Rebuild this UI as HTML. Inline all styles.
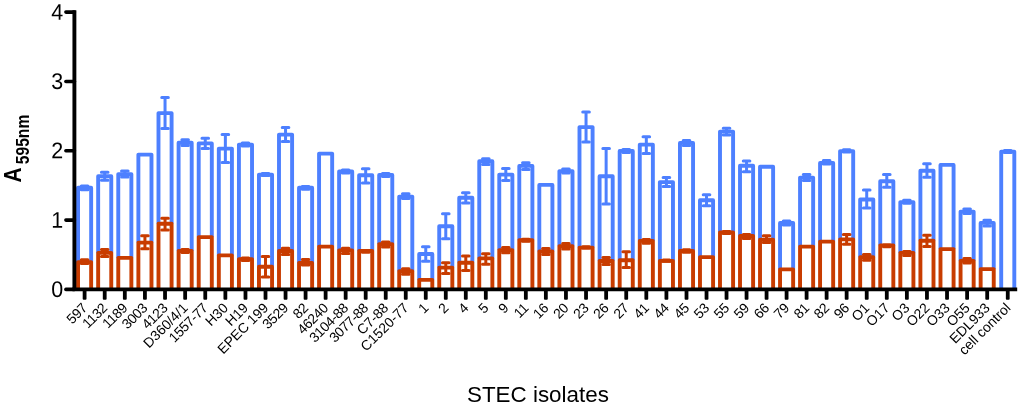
<!DOCTYPE html>
<html><head><meta charset="utf-8"><title>STEC isolates</title>
<style>html,body{margin:0;padding:0;background:#fff}svg{display:block}text{font-family:"Liberation Sans",sans-serif;fill:#000}</style></head>
<body>
<svg width="1024" height="413" viewBox="0 0 1024 413">
<rect width="1024" height="413" fill="#fff"/>
<g fill="#fff" stroke="#4d80ff" stroke-width="3.9" stroke-linejoin="round">
<path d="M78.05 262.1V187.80h13.1V262.1"/>
<path d="M98.16 252.9V176.30h13.1V252.9"/>
<path d="M118.27 257.9V174.10h13.1V257.9"/>
<path d="M138.38 242.6V154.60h13.1V242.6"/>
<path d="M158.49 223.8V113.10h13.1V223.8"/>
<path d="M178.60 251V142.70h13.1V251"/>
<path d="M198.71 237.1V143.40h13.1V237.1"/>
<path d="M218.82 255.4V148.60h13.1V255.4"/>
<path d="M238.93 259.1V144.60h13.1V259.1"/>
<path d="M258.96 266.8V174.60h13.1V266.8"/>
<path d="M279.00 251V134.60h13.1V251"/>
<path d="M299.03 262.9V187.80h13.1V262.9"/>
<path d="M319.07 246.6V153.60h13.1V246.6"/>
<path d="M339.11 250.4V171.50h13.1V250.4"/>
<path d="M359.14 251V175.20h13.1V251"/>
<path d="M379.18 244.1V174.90h13.1V244.1"/>
<path d="M399.20 271.2V196.60h13.1V271.2"/>
<path d="M419.21 279.9V254.00h13.1V279.9"/>
<path d="M439.23 267.6V226.20h13.1V267.6"/>
<path d="M459.24 262.7V197.70h13.1V262.7"/>
<path d="M479.26 258.4V161.20h13.1V258.4"/>
<path d="M499.27 250.1V174.60h13.1V250.1"/>
<path d="M519.29 240.2V165.90h13.1V240.2"/>
<path d="M539.31 251.5V184.90h13.1V251.5"/>
<path d="M559.40 246.3V171.10h13.1V246.3"/>
<path d="M579.49 247.6V127.10h13.1V247.6"/>
<path d="M599.59 261V176.20h13.1V261"/>
<path d="M619.68 260.2V150.90h13.1V260.2"/>
<path d="M639.77 240.9V144.60h13.1V240.9"/>
<path d="M659.87 260.9V182.10h13.1V260.9"/>
<path d="M679.96 251V142.90h13.1V251"/>
<path d="M699.98 257.1V200.20h13.1V257.1"/>
<path d="M719.99 232.4V131.60h13.1V232.4"/>
<path d="M740.01 236V165.80h13.1V236"/>
<path d="M760.02 239.7V166.80h13.1V239.7"/>
<path d="M780.04 269.4V222.90h13.1V269.4"/>
<path d="M800.05 246.6V177.60h13.1V246.6"/>
<path d="M820.07 241.6V162.90h13.1V241.6"/>
<path d="M840.09 239.4V151.10h13.1V239.4"/>
<path d="M860.17 257.3V199.50h13.1V257.3"/>
<path d="M880.24 245.4V181.30h13.1V245.4"/>
<path d="M900.32 252.9V202.10h13.1V252.9"/>
<path d="M920.40 240.7V170.70h13.1V240.7"/>
<path d="M940.48 249.1V164.90h13.1V249.1"/>
<path d="M960.56 260.9V211.60h13.1V260.9"/>
<path d="M980.64 269.1V222.90h13.1V269.1"/>
<path d="M1001.21 289.4V151.60h13.1V289.4"/>
</g>
<g fill="none" stroke="#4d80ff" stroke-width="3.0" stroke-linecap="round">
<path d="M84.60 185.90V189.70M81.30 185.90h6.6M81.30 189.70h6.6"/>
<path d="M104.71 172.30V180.30M101.41 172.30h6.6M101.41 180.30h6.6"/>
<path d="M124.82 171.10V177.10M121.52 171.10h6.6M121.52 177.10h6.6"/>
<path d="M165.04 97.60V128.60M161.74 97.60h6.6M161.74 128.60h6.6"/>
<path d="M185.15 139.80V145.60M181.85 139.80h6.6M181.85 145.60h6.6"/>
<path d="M205.26 138.20V148.60M201.96 138.20h6.6M201.96 148.60h6.6"/>
<path d="M225.37 134.60V162.60M222.07 134.60h6.6M222.07 162.60h6.6"/>
<path d="M245.48 143.10V146.10M242.18 143.10h6.6M242.18 146.10h6.6"/>
<path d="M265.51 173.60V175.60M262.21 173.60h6.6M262.21 175.60h6.6"/>
<path d="M285.55 127.60V141.60M282.25 127.60h6.6M282.25 141.60h6.6"/>
<path d="M305.58 186.40V189.20M302.28 186.40h6.6M302.28 189.20h6.6"/>
<path d="M345.66 170.00V173.00M342.36 170.00h6.6M342.36 173.00h6.6"/>
<path d="M365.69 168.80V183.00M362.39 168.80h6.6M362.39 183.00h6.6"/>
<path d="M385.73 173.40V176.40M382.43 173.40h6.6M382.43 176.40h6.6"/>
<path d="M405.75 193.70V198.40M402.45 193.70h6.6M402.45 198.40h6.6"/>
<path d="M425.76 246.80V261.20M422.46 246.80h6.6M422.46 261.20h6.6"/>
<path d="M445.78 213.70V238.70M442.48 213.70h6.6M442.48 238.70h6.6"/>
<path d="M465.79 192.70V203.00M462.49 192.70h6.6M462.49 203.00h6.6"/>
<path d="M485.81 158.70V164.50M482.51 158.70h6.6M482.51 164.50h6.6"/>
<path d="M505.82 168.60V180.60M502.52 168.60h6.6M502.52 180.60h6.6"/>
<path d="M525.84 162.80V169.60M522.54 162.80h6.6M522.54 169.60h6.6"/>
<path d="M565.95 168.90V173.10M562.65 168.90h6.6M562.65 173.10h6.6"/>
<path d="M586.04 112.10V142.10M582.74 112.10h6.6M582.74 142.10h6.6"/>
<path d="M606.14 148.40V204.00M602.84 148.40h6.6M602.84 204.00h6.6"/>
<path d="M626.23 149.40V152.40M622.93 149.40h6.6M622.93 152.40h6.6"/>
<path d="M646.32 136.80V153.50M643.02 136.80h6.6M643.02 153.50h6.6"/>
<path d="M666.42 177.60V186.60M663.12 177.60h6.6M663.12 186.60h6.6"/>
<path d="M686.51 140.40V145.40M683.21 140.40h6.6M683.21 145.40h6.6"/>
<path d="M706.53 194.70V205.70M703.23 194.70h6.6M703.23 205.70h6.6"/>
<path d="M726.54 128.30V134.90M723.24 128.30h6.6M723.24 134.90h6.6"/>
<path d="M746.56 161.10V171.70M743.26 161.10h6.6M743.26 171.70h6.6"/>
<path d="M786.59 220.90V224.90M783.29 220.90h6.6M783.29 224.90h6.6"/>
<path d="M806.60 174.40V180.60M803.30 174.40h6.6M803.30 180.60h6.6"/>
<path d="M826.62 160.40V164.10M823.32 160.40h6.6M823.32 164.10h6.6"/>
<path d="M846.64 149.70V152.10M843.34 149.70h6.6M843.34 152.10h6.6"/>
<path d="M866.72 190.10V208.10M863.42 190.10h6.6M863.42 208.10h6.6"/>
<path d="M886.79 174.50V187.30M883.49 174.50h6.6M883.49 187.30h6.6"/>
<path d="M906.87 200.30V203.30M903.57 200.30h6.6M903.57 203.30h6.6"/>
<path d="M926.95 163.70V177.20M923.65 163.70h6.6M923.65 177.20h6.6"/>
<path d="M967.11 208.90V213.60M963.81 208.90h6.6M963.81 213.60h6.6"/>
<path d="M987.19 220.20V225.90M983.89 220.20h6.6M983.89 225.90h6.6"/>
<path d="M1007.76 150.60V152.60M1004.46 150.60h6.6M1004.46 152.60h6.6"/>
</g>
<g fill="#fff" stroke="#c83c00" stroke-width="3.9" stroke-linejoin="round">
<path d="M78.05 289.4V262.10h13.1V289.4"/>
<path d="M98.16 289.4V252.90h13.1V289.4"/>
<path d="M118.27 289.4V257.90h13.1V289.4"/>
<path d="M138.38 289.4V242.60h13.1V289.4"/>
<path d="M158.49 289.4V223.80h13.1V289.4"/>
<path d="M178.60 289.4V251.00h13.1V289.4"/>
<path d="M198.71 289.4V237.10h13.1V289.4"/>
<path d="M218.82 289.4V255.40h13.1V289.4"/>
<path d="M238.93 289.4V259.10h13.1V289.4"/>
<path d="M258.96 289.4V266.80h13.1V289.4"/>
<path d="M279.00 289.4V251.00h13.1V289.4"/>
<path d="M299.03 289.4V262.90h13.1V289.4"/>
<path d="M319.07 289.4V246.60h13.1V289.4"/>
<path d="M339.11 289.4V250.40h13.1V289.4"/>
<path d="M359.14 289.4V251.00h13.1V289.4"/>
<path d="M379.18 289.4V244.10h13.1V289.4"/>
<path d="M399.20 289.4V271.20h13.1V289.4"/>
<path d="M419.21 289.4V279.90h13.1V289.4"/>
<path d="M439.23 289.4V267.60h13.1V289.4"/>
<path d="M459.24 289.4V262.70h13.1V289.4"/>
<path d="M479.26 289.4V258.40h13.1V289.4"/>
<path d="M499.27 289.4V250.10h13.1V289.4"/>
<path d="M519.29 289.4V240.20h13.1V289.4"/>
<path d="M539.31 289.4V251.50h13.1V289.4"/>
<path d="M559.40 289.4V246.30h13.1V289.4"/>
<path d="M579.49 289.4V247.60h13.1V289.4"/>
<path d="M599.59 289.4V261.00h13.1V289.4"/>
<path d="M619.68 289.4V260.20h13.1V289.4"/>
<path d="M639.77 289.4V240.90h13.1V289.4"/>
<path d="M659.87 289.4V260.90h13.1V289.4"/>
<path d="M679.96 289.4V251.00h13.1V289.4"/>
<path d="M699.98 289.4V257.10h13.1V289.4"/>
<path d="M719.99 289.4V232.40h13.1V289.4"/>
<path d="M740.01 289.4V236.00h13.1V289.4"/>
<path d="M760.02 289.4V239.70h13.1V289.4"/>
<path d="M780.04 289.4V269.40h13.1V289.4"/>
<path d="M800.05 289.4V246.60h13.1V289.4"/>
<path d="M820.07 289.4V241.60h13.1V289.4"/>
<path d="M840.09 289.4V239.40h13.1V289.4"/>
<path d="M860.17 289.4V257.30h13.1V289.4"/>
<path d="M880.24 289.4V245.40h13.1V289.4"/>
<path d="M900.32 289.4V252.90h13.1V289.4"/>
<path d="M920.40 289.4V240.70h13.1V289.4"/>
<path d="M940.48 289.4V249.10h13.1V289.4"/>
<path d="M960.56 289.4V260.90h13.1V289.4"/>
<path d="M980.64 289.4V269.10h13.1V289.4"/>
</g>
<g fill="none" stroke="#c83c00" stroke-width="3.0" stroke-linecap="round">
<path d="M84.60 259.80V263.60M81.30 259.80h6.6M81.30 263.60h6.6"/>
<path d="M104.71 249.60V256.60M101.41 249.60h6.6M101.41 256.60h6.6"/>
<path d="M144.93 235.70V248.70M141.63 235.70h6.6M141.63 248.70h6.6"/>
<path d="M165.04 218.20V229.90M161.74 218.20h6.6M161.74 229.90h6.6"/>
<path d="M185.15 249.50V252.50M181.85 249.50h6.6M181.85 252.50h6.6"/>
<path d="M245.48 258.10V260.60M242.18 258.10h6.6M242.18 260.60h6.6"/>
<path d="M265.51 256.50V277.00M262.21 256.50h6.6M262.21 277.00h6.6"/>
<path d="M285.55 248.20V254.60M282.25 248.20h6.6M282.25 254.60h6.6"/>
<path d="M305.58 259.40V264.90M302.28 259.40h6.6M302.28 264.90h6.6"/>
<path d="M345.66 248.20V253.40M342.36 248.20h6.6M342.36 253.40h6.6"/>
<path d="M365.69 250.50V252.30M362.39 250.50h6.6M362.39 252.30h6.6"/>
<path d="M385.73 242.10V246.90M382.43 242.10h6.6M382.43 246.90h6.6"/>
<path d="M405.75 268.70V274.20M402.45 268.70h6.6M402.45 274.20h6.6"/>
<path d="M445.78 262.70V273.50M442.48 262.70h6.6M442.48 273.50h6.6"/>
<path d="M465.79 255.90V270.40M462.49 255.90h6.6M462.49 270.40h6.6"/>
<path d="M485.81 253.70V264.20M482.51 253.70h6.6M482.51 264.20h6.6"/>
<path d="M505.82 247.40V252.80M502.52 247.40h6.6M502.52 252.80h6.6"/>
<path d="M525.84 239.20V241.20M522.54 239.20h6.6M522.54 241.20h6.6"/>
<path d="M545.86 248.50V254.50M542.56 248.50h6.6M542.56 254.50h6.6"/>
<path d="M565.95 243.50V249.10M562.65 243.50h6.6M562.65 249.10h6.6"/>
<path d="M586.04 246.80V248.10M582.74 246.80h6.6M582.74 248.10h6.6"/>
<path d="M606.14 257.40V264.60M602.84 257.40h6.6M602.84 264.60h6.6"/>
<path d="M626.23 251.80V267.40M622.93 251.80h6.6M622.93 267.40h6.6"/>
<path d="M646.32 239.50V243.30M643.02 239.50h6.6M643.02 243.30h6.6"/>
<path d="M666.42 260.00V261.20M663.12 260.00h6.6M663.12 261.20h6.6"/>
<path d="M686.51 249.80V252.20M683.21 249.80h6.6M683.21 252.20h6.6"/>
<path d="M726.54 231.40V233.40M723.24 231.40h6.6M723.24 233.40h6.6"/>
<path d="M746.56 234.50V238.50M743.26 234.50h6.6M743.26 238.50h6.6"/>
<path d="M766.57 235.80V242.50M763.27 235.80h6.6M763.27 242.50h6.6"/>
<path d="M846.64 234.60V244.20M843.34 234.60h6.6M843.34 244.20h6.6"/>
<path d="M866.72 254.40V260.20M863.42 254.40h6.6M863.42 260.20h6.6"/>
<path d="M886.79 245.00V246.70M883.49 245.00h6.6M883.49 246.70h6.6"/>
<path d="M906.87 251.40V255.50M903.57 251.40h6.6M903.57 255.50h6.6"/>
<path d="M926.95 235.20V246.50M923.65 235.20h6.6M923.65 246.50h6.6"/>
<path d="M967.11 258.40V262.90M963.81 258.40h6.6M963.81 262.90h6.6"/>
</g>
<g stroke="#000" fill="none">
<path stroke-width="3.9" d="M74.4 10.32V289.40"/>
<path stroke-width="3.6" d="M72.45 289.4H1017.2"/>
</g>
<g stroke="#000" stroke-width="3.6" stroke-linecap="round" fill="none">
<path d="M74.4 289.40H65.9"/>
<path d="M74.4 220.08H65.9"/>
<path d="M74.4 150.76H65.9"/>
<path d="M74.4 81.44H65.9"/>
<path d="M74.4 12.12H65.9"/>
</g>
<g fill="#000">
<rect x="82.70" y="289.40" width="3.8" height="10.3" rx="0.9"/>
<rect x="102.81" y="289.40" width="3.8" height="10.3" rx="0.9"/>
<rect x="122.92" y="289.40" width="3.8" height="10.3" rx="0.9"/>
<rect x="143.03" y="289.40" width="3.8" height="10.3" rx="0.9"/>
<rect x="163.14" y="289.40" width="3.8" height="10.3" rx="0.9"/>
<rect x="183.25" y="289.40" width="3.8" height="10.3" rx="0.9"/>
<rect x="203.36" y="289.40" width="3.8" height="10.3" rx="0.9"/>
<rect x="223.47" y="289.40" width="3.8" height="10.3" rx="0.9"/>
<rect x="243.58" y="289.40" width="3.8" height="10.3" rx="0.9"/>
<rect x="263.61" y="289.40" width="3.8" height="10.3" rx="0.9"/>
<rect x="283.65" y="289.40" width="3.8" height="10.3" rx="0.9"/>
<rect x="303.68" y="289.40" width="3.8" height="10.3" rx="0.9"/>
<rect x="323.72" y="289.40" width="3.8" height="10.3" rx="0.9"/>
<rect x="343.76" y="289.40" width="3.8" height="10.3" rx="0.9"/>
<rect x="363.79" y="289.40" width="3.8" height="10.3" rx="0.9"/>
<rect x="383.83" y="289.40" width="3.8" height="10.3" rx="0.9"/>
<rect x="403.85" y="289.40" width="3.8" height="10.3" rx="0.9"/>
<rect x="423.86" y="289.40" width="3.8" height="10.3" rx="0.9"/>
<rect x="443.88" y="289.40" width="3.8" height="10.3" rx="0.9"/>
<rect x="463.89" y="289.40" width="3.8" height="10.3" rx="0.9"/>
<rect x="483.91" y="289.40" width="3.8" height="10.3" rx="0.9"/>
<rect x="503.92" y="289.40" width="3.8" height="10.3" rx="0.9"/>
<rect x="523.94" y="289.40" width="3.8" height="10.3" rx="0.9"/>
<rect x="543.96" y="289.40" width="3.8" height="10.3" rx="0.9"/>
<rect x="564.05" y="289.40" width="3.8" height="10.3" rx="0.9"/>
<rect x="584.14" y="289.40" width="3.8" height="10.3" rx="0.9"/>
<rect x="604.24" y="289.40" width="3.8" height="10.3" rx="0.9"/>
<rect x="624.33" y="289.40" width="3.8" height="10.3" rx="0.9"/>
<rect x="644.42" y="289.40" width="3.8" height="10.3" rx="0.9"/>
<rect x="664.52" y="289.40" width="3.8" height="10.3" rx="0.9"/>
<rect x="684.61" y="289.40" width="3.8" height="10.3" rx="0.9"/>
<rect x="704.63" y="289.40" width="3.8" height="10.3" rx="0.9"/>
<rect x="724.64" y="289.40" width="3.8" height="10.3" rx="0.9"/>
<rect x="744.66" y="289.40" width="3.8" height="10.3" rx="0.9"/>
<rect x="764.67" y="289.40" width="3.8" height="10.3" rx="0.9"/>
<rect x="784.69" y="289.40" width="3.8" height="10.3" rx="0.9"/>
<rect x="804.70" y="289.40" width="3.8" height="10.3" rx="0.9"/>
<rect x="824.72" y="289.40" width="3.8" height="10.3" rx="0.9"/>
<rect x="844.74" y="289.40" width="3.8" height="10.3" rx="0.9"/>
<rect x="864.82" y="289.40" width="3.8" height="10.3" rx="0.9"/>
<rect x="884.89" y="289.40" width="3.8" height="10.3" rx="0.9"/>
<rect x="904.97" y="289.40" width="3.8" height="10.3" rx="0.9"/>
<rect x="925.05" y="289.40" width="3.8" height="10.3" rx="0.9"/>
<rect x="945.13" y="289.40" width="3.8" height="10.3" rx="0.9"/>
<rect x="965.21" y="289.40" width="3.8" height="10.3" rx="0.9"/>
<rect x="985.29" y="289.40" width="3.8" height="10.3" rx="0.9"/>
<rect x="1005.86" y="289.40" width="3.8" height="10.3" rx="0.9"/>
</g>
<g font-size="22.6" text-anchor="end">
<text transform="translate(63.2,297.00) rotate(0.03) scale(0.95,1)">0</text>
<text transform="translate(63.2,227.68) rotate(0.03) scale(0.95,1)">1</text>
<text transform="translate(63.2,158.36) rotate(0.03) scale(0.95,1)">2</text>
<text transform="translate(63.2,89.04) rotate(0.03) scale(0.95,1)">3</text>
<text transform="translate(63.2,19.72) rotate(0.03) scale(0.95,1)">4</text>
</g>
<g transform="translate(21.1,182.5) rotate(-90)" font-weight="bold"><text transform="scale(0.906,1)" font-size="23.2">A</text><text transform="translate(18.3,8.2) scale(0.85,1)" font-size="18.4">595nm</text></g>
<text x="537.9" y="402" font-size="22.4" text-anchor="middle">STEC isolates</text>
<g font-size="13.9" text-anchor="end">
<text transform="translate(87.90,309.10) rotate(-45)" letter-spacing="-0.4">597</text>
<text transform="translate(108.01,309.10) rotate(-45)" letter-spacing="-0.4">1132</text>
<text transform="translate(128.12,309.10) rotate(-45)" letter-spacing="-0.4">1189</text>
<text transform="translate(148.23,309.10) rotate(-45)" letter-spacing="-0.4">3003</text>
<text transform="translate(168.34,309.10) rotate(-45)" letter-spacing="-0.4">4123</text>
<text transform="translate(188.75,308.80) rotate(-45)">D360/4/1</text>
<text transform="translate(208.56,309.10) rotate(-45)" letter-spacing="-0.4">1557-77</text>
<text transform="translate(228.97,308.80) rotate(-45)">H30</text>
<text transform="translate(249.08,308.80) rotate(-45)">H19</text>
<text transform="translate(269.11,308.80) rotate(-45)">EPEC 199</text>
<text transform="translate(288.85,309.10) rotate(-45)" letter-spacing="-0.4">3529</text>
<text transform="translate(308.88,309.10) rotate(-45)" letter-spacing="-0.4">82</text>
<text transform="translate(328.92,309.10) rotate(-45)" letter-spacing="-0.4">46240</text>
<text transform="translate(348.96,309.10) rotate(-45)" letter-spacing="-0.4">3104-88</text>
<text transform="translate(368.99,309.10) rotate(-45)" letter-spacing="-0.4">3077-88</text>
<text transform="translate(389.33,308.80) rotate(-45)">C7-88</text>
<text transform="translate(409.35,308.80) rotate(-45)">C1520-77</text>
<text transform="translate(429.36,308.80) rotate(-45)">1</text>
<text transform="translate(449.38,308.80) rotate(-45)">2</text>
<text transform="translate(469.39,308.80) rotate(-45)">4</text>
<text transform="translate(489.41,308.80) rotate(-45)">5</text>
<text transform="translate(509.42,308.80) rotate(-45)">9</text>
<text transform="translate(529.14,309.10) rotate(-45)" letter-spacing="-0.4">11</text>
<text transform="translate(549.16,309.10) rotate(-45)" letter-spacing="-0.4">16</text>
<text transform="translate(569.25,309.10) rotate(-45)" letter-spacing="-0.4">20</text>
<text transform="translate(589.34,309.10) rotate(-45)" letter-spacing="-0.4">23</text>
<text transform="translate(609.44,309.10) rotate(-45)" letter-spacing="-0.4">26</text>
<text transform="translate(629.53,309.10) rotate(-45)" letter-spacing="-0.4">27</text>
<text transform="translate(649.62,309.10) rotate(-45)" letter-spacing="-0.4">41</text>
<text transform="translate(669.72,309.10) rotate(-45)" letter-spacing="-0.4">44</text>
<text transform="translate(689.81,309.10) rotate(-45)" letter-spacing="-0.4">45</text>
<text transform="translate(709.83,309.10) rotate(-45)" letter-spacing="-0.4">53</text>
<text transform="translate(729.84,309.10) rotate(-45)" letter-spacing="-0.4">55</text>
<text transform="translate(749.86,309.10) rotate(-45)" letter-spacing="-0.4">59</text>
<text transform="translate(769.87,309.10) rotate(-45)" letter-spacing="-0.4">66</text>
<text transform="translate(789.89,309.10) rotate(-45)" letter-spacing="-0.4">79</text>
<text transform="translate(809.90,309.10) rotate(-45)" letter-spacing="-0.4">81</text>
<text transform="translate(829.92,309.10) rotate(-45)" letter-spacing="-0.4">82</text>
<text transform="translate(849.94,309.10) rotate(-45)" letter-spacing="-0.4">96</text>
<text transform="translate(870.32,308.80) rotate(-45)">O1</text>
<text transform="translate(890.39,308.80) rotate(-45)">O17</text>
<text transform="translate(910.47,308.80) rotate(-45)">O3</text>
<text transform="translate(930.55,308.80) rotate(-45)">O22</text>
<text transform="translate(950.63,308.80) rotate(-45)">O33</text>
<text transform="translate(970.71,308.80) rotate(-45)">O55</text>
<text transform="translate(990.79,308.80) rotate(-45)">EDL933</text>
<text transform="translate(1011.36,308.80) rotate(-45)">cell control</text>
</g>
</svg></body></html>
